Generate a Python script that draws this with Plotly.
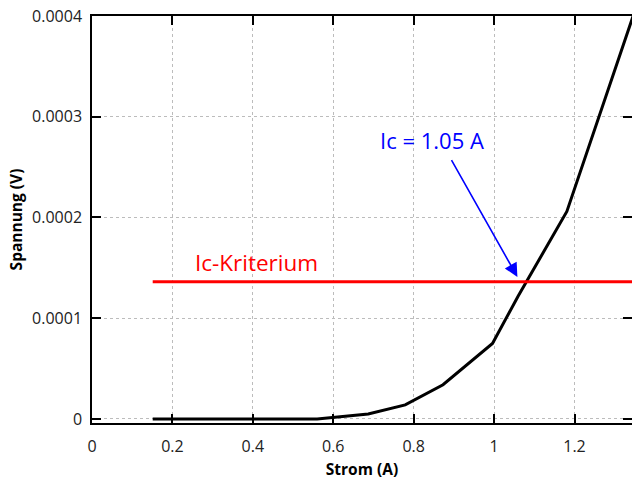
import plotly.graph_objects as go

# Data
strom = [0.151, 0.25, 0.35, 0.45, 0.56, 0.687, 0.779, 0.873, 0.996, 1.06, 1.181, 1.35]
spannung = [0.0, 0.0, 0.0, 0.0, 0.0, 5.0e-6, 1.4e-5, 3.4e-5, 7.5e-5, 1.22e-4, 2.06e-4, 4.05e-4]

kriterium_x = [0.151, 1.35]
kriterium_y = [1.363e-4, 1.363e-4]

x_ticks = [0, 0.2, 0.4, 0.6, 0.8, 1.0, 1.2]
x_ticktext = ["0", "0.2", "0.4", "0.6", "0.8", "1", "1.2"]
y_ticks = [0, 0.0001, 0.0002, 0.0003, 0.0004]
y_ticktext = ["0", "0.0001", "0.0002", "0.0003", "0.0004"]

ic_label = "Ic = 1.05 A"
krit_label = "Ic-Kriterium"
ic_text_pos = (0.846, 2.77e-4)
arrow_tail = (0.892, 2.585e-4)
arrow_tip = (1.058, 1.41e-4)
krit_text_pos = (0.409, 1.55e-4)

FONT = "Open Sans"

fig = go.Figure()
fig.add_trace(go.Scatter(x=strom, y=spannung, mode="lines",
                         line=dict(color="black", width=3), showlegend=False))
fig.add_trace(go.Scatter(x=kriterium_x, y=kriterium_y, mode="lines",
                         line=dict(color="#ff0000", width=3), showlegend=False))

fig.add_annotation(x=ic_text_pos[0], y=ic_text_pos[1], text=ic_label, showarrow=False,
                   font=dict(family=FONT, size=22, color="#0000ff"))
fig.add_annotation(x=arrow_tip[0], y=arrow_tip[1], ax=arrow_tail[0], ay=arrow_tail[1],
                   axref="x", ayref="y", xref="x", yref="y", text="", showarrow=True,
                   arrowhead=2, arrowsize=1.7, arrowwidth=1.6, arrowcolor="#0000ff")
fig.add_annotation(x=krit_text_pos[0], y=krit_text_pos[1], text=krit_label, showarrow=False,
                   font=dict(family=FONT, size=22.5, color="#ff0000"))

axis_common = dict(showline=True, linecolor="black", linewidth=1.5, mirror="allticks",
                   ticks="inside", ticklen=9, tickwidth=1.5, tickcolor="black",
                   showgrid=True, gridcolor="#bcbcbc", griddash="dot", gridwidth=1,
                   zeroline=False, automargin=False,
                   tickfont=dict(family=FONT, size=16, color="#222222"))

fig.update_xaxes(range=[0, 1.343], tickvals=x_ticks, ticktext=x_ticktext,
                 ticklabelstandoff=8,
                 title=dict(text="<b>Strom (A)</b>", font=dict(family=FONT, size=15.5, color="black"),
                            standoff=9),
                 **axis_common)
fig.update_yaxes(range=[-4e-6, 0.0004], tickvals=y_ticks, ticktext=y_ticktext,
                 ticklabelstandoff=5,
                 title=dict(text="<b>Spannung (V)</b>", font=dict(family=FONT, size=15.5, color="black"),
                            standoff=6),
                 **axis_common)

fig.update_layout(width=632, height=480, margin=dict(l=92, r=0, t=16, b=57),
                  plot_bgcolor="white", paper_bgcolor="white")

fig.write_html("out.html", config={"responsive": False, "displayModeBar": False},
               post_script="document.body.style.margin='0';document.body.style.overflow='hidden';")
